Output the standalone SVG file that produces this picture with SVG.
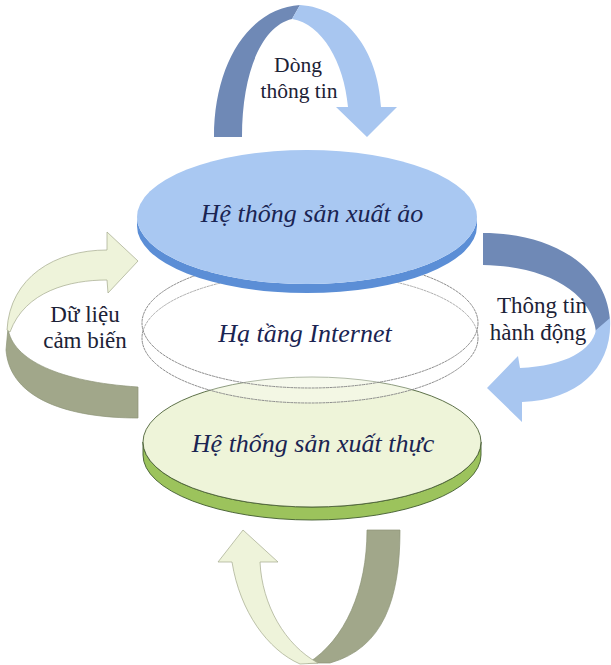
<svg xmlns="http://www.w3.org/2000/svg" width="611" height="665" viewBox="0 0 611 665">
  <style>
    text { font-family: "Liberation Serif", "Times New Roman", Times, "Nimbus Roman", "Nimbus Roman No9 L", "Noto Serif", "DejaVu Serif", FreeSerif, Tinos, serif; }
    .lbl { fill: #1c2236; text-anchor: middle; }
    .node { font-style: italic; fill: #1a2452; text-anchor: middle; font-size: 26px; }
    .blueDark { fill: #6f89b6; }
    .blueLight { fill: #a8c6f0; }
    .greenLight { fill: #eef3da; stroke: #a3a98c; stroke-width: 0.7; }
    .greenDark { fill: #a1a78a; stroke: #8d9377; stroke-width: 0.7; }
    .ring { fill: #ffffff; fill-opacity: 0.3; stroke: #8c8c8c; stroke-width: 1; stroke-dasharray: 3 0.6; }
  </style>
  <rect width="611" height="665" fill="#ffffff"/>

  <g id="connectors">
    <!-- Dòng thông tin: loop over the top -->
    <g id="arrow-top">
      <path class="blueDark" d="M214,137 C214,62 250,8 300,5 L292,19 C262,26 242,72 242,137 Z"/>
      <path class="blueLight" d="M300,5 C346,8 378,50 381,107 L397,107 L367,137 L336,107 L348,107 C344,62 322,24 292,19 Z"/>
      <text class="lbl" font-size="21.5" x="298" y="72">Dòng</text>
      <text class="lbl" font-size="21.5" x="299" y="98">thông tin</text>
    </g>

    <!-- Thông tin hành động: loop on the right -->
    <g id="arrow-right">
      <path class="blueDark" d="M483,233 C546,233 606,262 610,320 L596,332 C592,292 546,266 483,265 Z"/>
      <path class="blueLight" d="M610,318 C613,366 580,400 522,402 L522,422 L487,388 L518,356 L520,368 C566,366 592,350 596,330 Z"/>
      <text class="lbl" font-size="23" x="542" y="313">Thông tin</text>
      <text class="lbl" font-size="23" x="538" y="340">hành động</text>
    </g>

    <!-- Dữ liệu cảm biến: loop on the left -->
    <g id="arrow-left">
      <path class="greenDark" d="M8,328 C12,360 60,382 138,387 L138,418 C70,418 10,400 6,350 Z"/>
      <path class="greenLight" d="M107,250 L107,232 L138,261 L108,293 L107,280 C70,280 25,291 10,332 L7,330 C10,277 55,250 107,250 Z"/>
      <text class="lbl" font-size="23" x="85" y="322">Dữ liệu</text>
      <text class="lbl" font-size="23" x="85" y="348">cảm biến</text>
    </g>

    <!-- loop under the bottom disc -->
    <g id="arrow-bottom">
      <path class="greenDark" stroke="none" d="M367,530 L400,530 C400,600 383,648 330,663 L308,663 C345,640 367,590 367,530 Z"/>
      <path class="greenLight" stroke="none" d="M232,562 L218,562 L243,530 L278,562 L260,562 C262,605 285,645 318,663 L300,664 C268,650 240,612 232,562 Z"/>
    </g>
  </g>

  <!-- physical system disc -->
  <g id="node-real">
    <path d="M143,442 A169,65 0 0 0 481,442 L481,455 A169,65 0 0 1 143,455 Z" fill="#9cc35c" stroke="#3f5a2c" stroke-width="0.9"/>
    <ellipse cx="312" cy="442" rx="169" ry="65" fill="#eef4d9" stroke="#4d6238" stroke-width="0.9"/>
    <text class="node" x="313" y="452">Hệ thống sản xuất thực</text>
  </g>

  <!-- network layer ring -->
  <g id="node-internet">
    <ellipse class="ring" cx="310" cy="338" rx="168" ry="65"/>
    <ellipse class="ring" cx="310" cy="323" rx="168" ry="65"/>
    <text class="node" x="305" y="342">Hạ tầng Internet</text>
  </g>

  <!-- virtual system disc -->
  <g id="node-virtual">
    <path d="M137,217 A170,67 0 0 0 477,217 L477,226 A170,67 0 0 1 137,226 Z" fill="#5b8ed6"/>
    <ellipse cx="307" cy="217" rx="170" ry="67" fill="#a9c8f2"/>
    <text class="node" x="312" y="222">Hệ thống sản xuất ảo</text>
  </g>
</svg>
